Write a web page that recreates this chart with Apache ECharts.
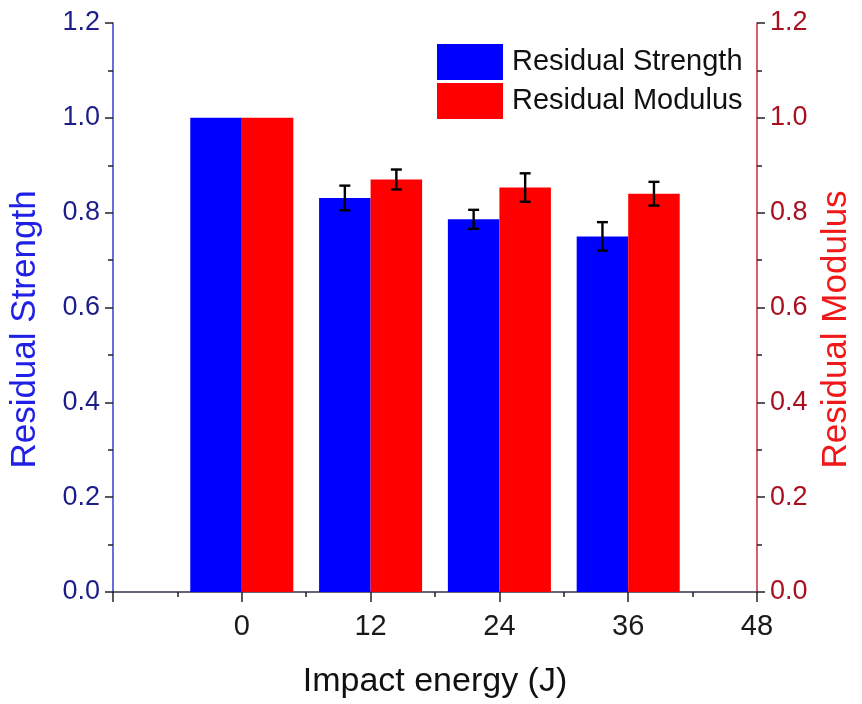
<!DOCTYPE html>
<html>
<head>
<meta charset="utf-8">
<script src="https://cdn.jsdelivr.net/npm/echarts@6/dist/echarts.min.js"></script>
<style>html,body{margin:0;padding:0;background:#fff}#c{width:862px;height:704px}</style>
</head>
<body>
<div id="c"></div>
<script>
const energies = [0, 12, 24, 36];
const strength = [1.0, 0.831, 0.786, 0.750];
const strengthErr = [0, 0.026, 0.020, 0.030];
const modulus = [1.0, 0.870, 0.853, 0.840];
const modulusErr = [0, 0.021, 0.030, 0.025];
const xTicks = [-12, 0, 12, 24, 36, 48];
const yTicks = [0, 0.2, 0.4, 0.6, 0.8, 1.0, 1.2];

const FONT = "'Liberation Sans', Arial, sans-serif";
const BAR_W = 4.8; // bar width in x-axis units
const chart = echarts.init(document.getElementById('c'), null, {renderer: 'canvas'});

function barRender(side, color) {
  return function (params, api) {
    const x = api.value(0), y = api.value(1);
    const w = api.size([BAR_W, 0])[0];
    const top = api.coord([x, y]);
    const base = api.coord([x, 0]);
    const left = side < 0 ? top[0] - w : top[0];
    return {type: 'rect', shape: {x: left, y: top[1], width: w, height: base[1] - top[1]}, style: {fill: color}};
  };
}
function errRender(side) {
  return function (params, api) {
    const x = api.value(0), y = api.value(1), e = api.value(2);
    if (!e) return null;
    const w = api.size([BAR_W, 0])[0];
    const cx = api.coord([x, y])[0] + side * w / 2;
    const hi = api.coord([x, y + e])[1];
    const lo = api.coord([x, y - e])[1];
    const cap = 5.5;
    const st = {stroke: '#000', lineWidth: 2.4};
    return {type: 'group', children: [
      {type: 'line', shape: {x1: cx, y1: hi, x2: cx, y2: lo}, style: st},
      {type: 'line', shape: {x1: cx - cap, y1: hi, x2: cx + cap, y2: hi}, style: st},
      {type: 'line', shape: {x1: cx - cap, y1: lo, x2: cx + cap, y2: lo}, style: st}
    ]};
  };
}

const sData = energies.map((e, i) => [e, strength[i], strengthErr[i]]);
const mData = energies.map((e, i) => [e, modulus[i], modulusErr[i]]);

const yCommon = {
  type: 'value', min: yTicks[0], max: yTicks[yTicks.length - 1], interval: 0.2,
  splitLine: {show: false},
  axisTick: {show: true, inside: false, length: 8, lineStyle: {color: '#222', width: 1.5}},
  minorTick: {show: true, splitNumber: 2, length: 5, lineStyle: {color: '#222', width: 1.5}},
  nameLocation: 'middle', nameRotate: 90
};

chart.setOption({
  animation: false,
  backgroundColor: '#fff',
  textStyle: {fontFamily: FONT},
  grid: {left: 112, right: 98, top: 23, bottom: 110},
  legend: {
    orient: 'vertical', left: 437, top: 44, padding: 0, itemWidth: 66, itemHeight: 36, itemGap: 3,
    icon: 'rect', data: ['Residual Strength', 'Residual Modulus'],
    textStyle: {fontFamily: FONT, fontSize: 29, color: '#111', padding: [0, 0, 0, 4]}
  },
  xAxis: {
    type: 'value', min: xTicks[0], max: xTicks[xTicks.length - 1], interval: 12,
    name: 'Impact energy (J)', nameLocation: 'middle', nameGap: 73,
    nameTextStyle: {fontFamily: FONT, fontSize: 34, color: '#111'},
    splitLine: {show: false},
    axisLine: {onZero: false, lineStyle: {color: '#33334d', width: 1.5}},
    axisTick: {show: true, inside: false, length: 10, lineStyle: {color: '#222', width: 1.5}},
    minorTick: {show: true, splitNumber: 2, length: 5, lineStyle: {color: '#222', width: 1.5}},
    axisLabel: {fontFamily: FONT, fontSize: 29, color: '#1a1a1a', margin: 20,
      formatter: v => (v === xTicks[0] ? '' : String(v))}
  },
  yAxis: [
    Object.assign({}, yCommon, {
      position: 'left', name: 'Residual Strength', nameGap: 70,
      nameTextStyle: {fontFamily: FONT, fontSize: 35, color: '#1f1fe6', padding: [0, 44, 0, 0]},
      axisLine: {show: true, onZero: false, lineStyle: {color: '#3a3acc', width: 1.5}},
      axisLabel: {fontFamily: FONT, fontSize: 27, color: '#1c1c8a', margin: 13, formatter: v => v.toFixed(1)}
    }),
    Object.assign({}, yCommon, {
      position: 'right', name: 'Residual Modulus', nameGap: 62,
      nameTextStyle: {fontFamily: FONT, fontSize: 35, color: '#f01818', padding: [0, 44, 0, 0]},
      axisLine: {show: true, onZero: false, lineStyle: {color: '#c8283c', width: 1.5}},
      axisLabel: {fontFamily: FONT, fontSize: 27, color: '#a81020', margin: 13, formatter: v => v.toFixed(1)}
    })
  ],
  series: [
    {name: 'Residual Strength', type: 'custom', yAxisIndex: 0, data: sData,
      itemStyle: {color: '#0000ff'}, renderItem: barRender(-1, '#0000ff'), encode: {x: 0, y: 1}, z: 2},
    {name: 'Residual Modulus', type: 'custom', yAxisIndex: 1, data: mData,
      itemStyle: {color: '#ff0000'}, renderItem: barRender(1, '#ff0000'), encode: {x: 0, y: 1}, z: 2},
    {name: 'errS', type: 'custom', yAxisIndex: 0, data: sData,
      renderItem: errRender(-1), encode: {x: 0, y: [1, 2]}, z: 3},
    {name: 'errM', type: 'custom', yAxisIndex: 1, data: mData,
      renderItem: errRender(1), encode: {x: 0, y: [1, 2]}, z: 3}
  ]
});
</script>
</body>
</html>
